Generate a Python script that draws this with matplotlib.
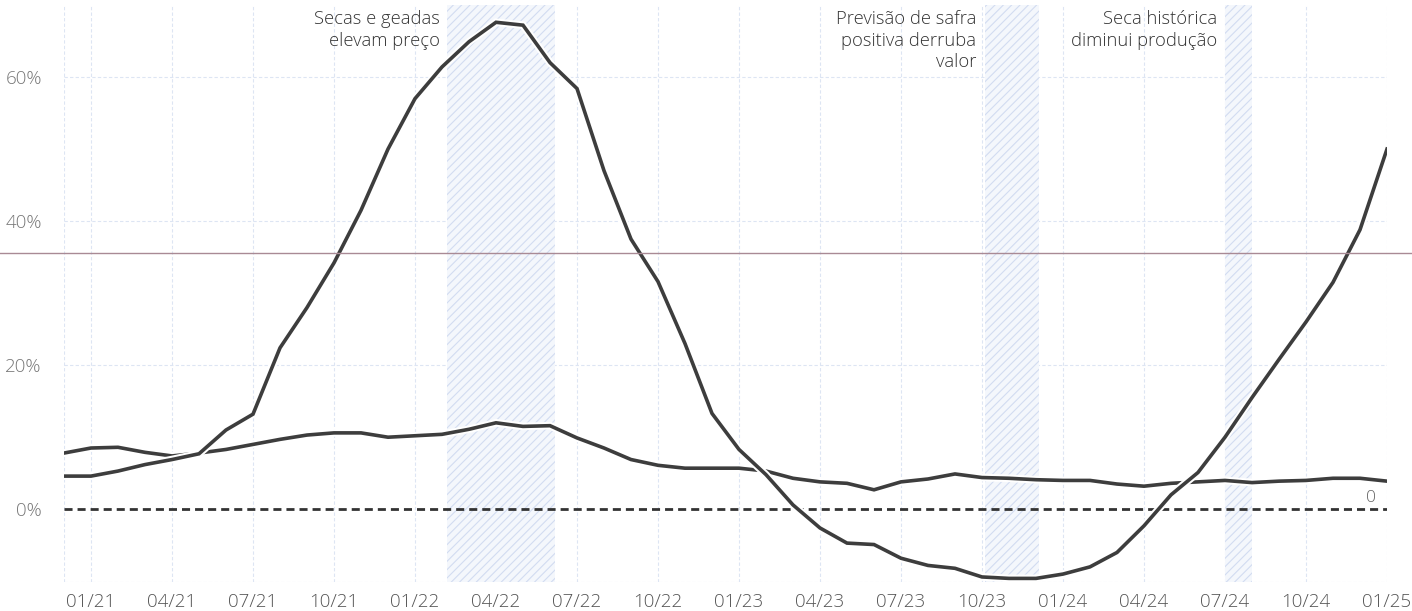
import matplotlib
matplotlib.use("Agg")
import matplotlib.pyplot as plt
import matplotlib.patheffects as pe
from matplotlib.lines import Line2D

plt.rcParams['font.family'] = ['Open Sans', 'DejaVu Sans']

# ---- data (monthly, 12/20 .. 01/25) ----
series_a = [4.6, 4.6, 5.3, 6.2, 6.9, 7.7, 11.0, 13.2, 22.4, 28.0,
            34.2, 41.5, 50.0, 57.0, 61.4, 64.9, 67.6, 67.2, 62.0, 58.4,
            47.0, 37.5, 31.6, 23.0, 13.3, 8.3, 4.8, 0.6, -2.6, -4.7,
            -4.9, -6.8, -7.8, -8.2, -9.4, -9.6, -9.6, -9.0, -8.0, -6.0,
            -2.3, 2.0, 5.1, 10.0, 15.5, 20.8, 26.0, 31.5, 38.8, 50.0]
series_b = [7.8, 8.5, 8.6, 7.9, 7.4, 7.8, 8.3, 9.0, 9.7, 10.3,
            10.6, 10.6, 10.0, 10.2, 10.4, 11.1, 12.0, 11.5, 11.6, 9.9,
            8.5, 6.9, 6.1, 5.7, 5.7, 5.7, 5.3, 4.3, 3.8, 3.6,
            2.7, 3.8, 4.2, 4.9, 4.4, 4.3, 4.1, 4.0, 4.0, 3.5,
            3.2, 3.6, 3.8, 4.0, 3.7, 3.9, 4.0, 4.3, 4.3, 3.9]
tick_labels = ['01/21', '04/21', '07/21', '10/21', '01/22', '04/22', '07/22',
               '10/22', '01/23', '04/23', '07/23', '10/23', '01/24', '04/24',
               '07/24', '10/24', '01/25']
tick_pos = [1 + 3 * k for k in range(len(tick_labels))]
y_ticks = [0, 20, 40, 60]
y_tick_labels = ['0%', '20%', '40%', '60%']
shaded = [(14.2, 18.2), (34.1, 36.1), (43.0, 44.0)]
annotations = [
    (13.93, 'Secas e geadas\nelevam preço'),
    (33.78, 'Previsão de safra\npositiva derruba\nvalor'),
    (42.70, 'Seca histórica\ndiminui produção'),
]

x = list(range(len(series_a)))

W, H = 1412, 611
fig = plt.figure(figsize=(W / 100, H / 100), dpi=100)
ax = fig.add_axes([64 / W, (H - 582) / H, (1387 - 64) / W, (582 - 5) / H])
ax.set_xlim(0, 49)
ax.set_ylim(-10.1, 70)

grid_kw = dict(color='#dde5f3', lw=0.8, ls=(0, (3, 2)), zorder=0)
for t in tick_pos + [0]:
    ax.axvline(t, **grid_kw)
for yv in [20, 40, 60]:
    ax.axhline(yv, **grid_kw)
ax.axhline(-10.1, **grid_kw)

plt.rcParams['hatch.linewidth'] = 0.8
for a, b in shaded:
    ax.axvspan(a, b, facecolor='#f4f7fc', edgecolor='#d2dcf1', hatch='////',
               linewidth=0, zorder=0.5)

ax.axhline(0, color='#333333', lw=2.0, ls=(0, (2.9, 1.8)), zorder=2)

halo = [pe.Stroke(linewidth=5.5, foreground='white'), pe.Normal()]
ax.plot(x, series_b, color='#3d3d3d', lw=2.6, zorder=3,
        solid_joinstyle='miter', path_effects=halo)
ax.plot(x, series_a, color='#3d3d3d', lw=2.6, zorder=4,
        solid_joinstyle='miter', path_effects=halo)

ax.text(48.4, 1.6, '0', ha='center', va='center', color='#666666',
        fontsize=12.5, fontweight='light')

for xr, txt in annotations:
    ax.text(xr, 69.3, txt, ha='right', va='top', color='#333333',
            fontsize=13.2, linespacing=1.25, zorder=5, fontweight='light')

ax.set_xticks(tick_pos)
ax.set_xticklabels(tick_labels, color='#555555', fontsize=13.5, fontweight='light')
ax.set_yticks(y_ticks)
ax.set_yticklabels(y_tick_labels, color='#777777', fontsize=13.5, fontweight='light')
ax.tick_params(axis='x', length=0, pad=8)
ax.tick_params(axis='y', length=0, pad=16)
for s in ax.spines.values():
    s.set_visible(False)

# faint horizontal rule crossing the page
fig.add_artist(Line2D([0, 1], [(H - 253) / H] * 2, color='#a98a95', lw=1.0,
                      transform=fig.transFigure, zorder=1))

fig.savefig('out.png', dpi=100, facecolor='white')
